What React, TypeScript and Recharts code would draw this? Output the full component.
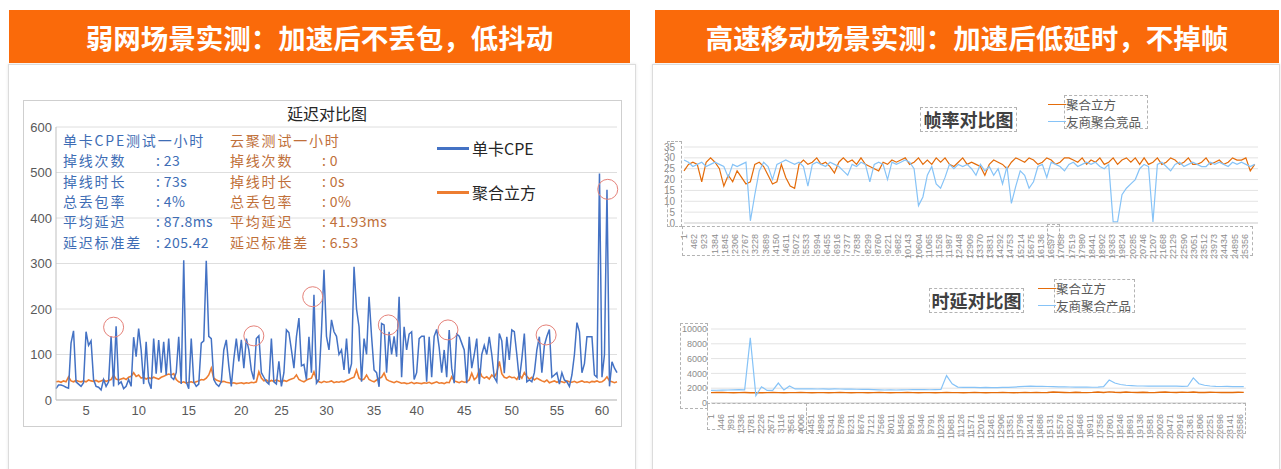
import React from 'react';
import { LineChart, Line, XAxis, YAxis, CartesianGrid, ReferenceDot } from 'recharts';

// ---- 弱网场景：延迟对比图 (x = sample index, labels are minutes) ----
const weakTickIdx = [12, 33, 53, 74, 90, 108, 127, 144, 163, 182, 200, 218];
const weakTickLabels = ['5', '10', '15', '20', '25', '30', '35', '40', '45', '50', '55', '60'];
const weakYTicks = [0, 100, 200, 300, 400, 500, 600];

const cpeDelay = [
  25, 33, 33, 31, 28, 26, 125, 152, 40, 35, 30, 38, 150, 120, 130, 45, 30, 28, 22, 45,
  30, 40, 140, 30, 162, 35, 40, 25, 30, 45, 30, 138, 95, 157, 110, 35, 128, 40, 25, 135,
  58, 132, 60, 128, 55, 135, 50, 45, 60, 139, 35, 307, 40, 25, 135, 40, 30, 35, 125, 130,
  306, 140, 135, 45, 35, 30, 40, 110, 132, 75, 30, 90, 135, 85, 132, 70, 135, 110, 65, 45,
  135, 141, 60, 50, 40, 35, 135, 40, 35, 85, 30, 60, 154, 148, 110, 70, 139, 180, 75, 78,
  45, 139, 60, 231, 37, 45, 150, 286, 140, 110, 176, 150, 140, 100, 110, 66, 135, 58, 80, 293,
  200, 161, 40, 135, 100, 227, 140, 66, 60, 29, 168, 165, 60, 150, 100, 140, 95, 227, 50, 161,
  110, 145, 150, 45, 60, 135, 140, 140, 40, 139, 50, 140, 155, 115, 60, 110, 50, 154, 70, 37,
  145, 140, 125, 110, 37, 139, 70, 100, 135, 35, 100, 120, 100, 139, 100, 50, 40, 146, 130, 59,
  139, 88, 154, 150, 100, 44, 90, 146, 40, 44, 40, 60, 110, 139, 60, 120, 140, 155, 50, 55,
  60, 35, 60, 44, 40, 30, 55, 100, 170, 150, 60, 80, 139, 139, 139, 55, 50, 498, 50, 100,
  462, 30, 84, 70, 60,
];
const cubeDelay = [
  40, 41, 39, 42, 40, 51, 42, 40, 43, 41, 40, 42, 40, 44, 42, 41, 43, 40, 42, 44,
  41, 43, 45, 55, 46, 44, 46, 48, 45, 50, 52, 60, 52, 55, 48, 50, 46, 49, 47, 50,
  48, 46, 50, 52, 55, 57, 55, 58, 45, 40, 38, 40, 37, 39, 40, 38, 40, 42, 45, 44,
  48, 55, 70, 48, 44, 42, 40, 41, 39, 38, 37, 38, 36, 37, 38, 36, 38, 37, 39, 38,
  40, 62, 48, 42, 44, 40, 43, 41, 44, 42, 40, 43, 41, 44, 46, 48, 55, 45, 42, 40,
  44, 46, 48, 62, 45, 40, 38, 41, 39, 40, 42, 38, 40, 39, 41, 40, 43, 45, 48, 50,
  66, 48, 44, 46, 55, 45, 42, 40, 44, 48, 50, 59, 45, 42, 40, 38, 41, 39, 37, 38,
  36, 37, 39, 36, 38, 37, 36, 38, 37, 39, 36, 38, 40, 37, 38, 36, 39, 38, 51, 42,
  40, 38, 41, 39, 40, 44, 59, 45, 50, 66, 52, 48, 51, 46, 55, 50, 60, 85, 58, 50,
  48, 52, 49, 50, 45, 55, 48, 60, 52, 46, 50, 44, 48, 45, 42, 40, 44, 38, 40, 42,
  39, 41, 40, 38, 42, 40, 39, 41, 38, 40, 42, 39, 40, 38, 41, 40, 42, 39, 40, 44,
  51, 42, 40, 38, 40,
];
// red circles drawn on the original screenshot
const markIdx = [23, 79, 102.5, 132.7, 156.5, 195.7, 220.3];
const markVal = [160, 141, 227, 165, 154, 143, 463];

const statLabels = ['掉线次数', '掉线时长', '总丢包率', '平均延迟', '延迟标准差'];
const cpeStats = ['23', '73s', '4%', '87.8ms', '205.42'];
const cubeStats = ['0', '0s', '0%', '41.93ms', '6.53'];

// ---- 高速移动：帧率对比图 (one value every 200 frames) ----
const fpsTicks = [
  1, 462, 923, 1384, 1845, 2306, 2767, 3228, 3689, 4150, 4611, 5072, 5533, 5994, 6455, 6916,
  7377, 7838, 8299, 8760, 9221, 9682, 10143, 10604, 11065, 11526, 11987, 12448, 12909, 13370,
  13831, 14292, 14753, 15214, 15675, 16136, 16597, 17058, 17519, 17980, 18441, 18902, 19363,
  19824, 20285, 20746, 21207, 21668, 22129, 22590, 23051, 23512, 23973, 24434, 24895, 25356,
];
const fpsYTicks = [0, 5, 10, 15, 20, 25, 30, 35];
const fpsCube = [
  24, 27, 28, 27, 19, 28, 30, 28, 25, 17, 22, 19, 24, 21, 18, 19, 27, 28, 26, 22,
  18, 19, 27, 21, 17, 16, 27, 29, 27, 28, 30, 27, 28, 26, 23, 28, 30, 28, 29, 27,
  30, 27, 26, 25, 24, 28, 27, 29, 28, 29, 30, 27, 28, 30, 27, 29, 27, 30, 28, 30,
  27, 26, 28, 30, 27, 28, 27, 26, 22, 27, 29, 28, 27, 25, 28, 30, 29, 28, 30, 29,
  27, 28, 30, 29, 27, 28, 30, 30, 29, 28, 30, 27, 29, 28, 30, 27, 28, 30, 27, 29,
  30, 28, 30, 27, 30, 27, 28, 30, 27, 28, 30, 29, 27, 28, 30, 27, 27, 28, 30, 27,
  28, 29, 27, 28, 30, 29, 29, 30, 24, 27,
];
const fpsRival = [
  29, 28, 26, 27, 28, 26, 27, 28, 27, 26, 21, 27, 26, 27, 28, 1, 13, 24, 28, 26,
  20, 27, 28, 29, 28, 27, 28, 26, 17, 27, 28, 27, 26, 28, 27, 26, 24, 22, 27, 26,
  28, 27, 19, 27, 28, 27, 20, 28, 27, 28, 29, 28, 25, 8, 12, 22, 26, 18, 16, 21,
  27, 25, 27, 26, 27, 25, 22, 27, 24, 26, 22, 25, 18, 26, 9, 17, 24, 22, 16, 19,
  26, 27, 21, 28, 27, 26, 24, 27, 28, 26, 27, 28, 27, 28, 26, 25, 27, 0.5, 0.5, 13,
  16, 18, 20, 25, 27, 26, 0.5, 27, 28, 26, 24, 27, 28, 26, 27, 28, 27, 26, 26, 28,
  27, 28, 27, 26, 28, 27, 28, 27, 26, 27,
];

// ---- 高速移动：时延对比图 (one value every 250 samples) ----
const delayTicks = [
  1, 446, 891, 1336, 1781, 2226, 2671, 3116, 3561, 4006, 4451, 4896, 5341, 5786, 6231, 6676,
  7121, 7566, 8011, 8456, 8901, 9346, 9791, 10236, 10681, 11126, 11571, 12016, 12461, 12906,
  13351, 13796, 14241, 14686, 15131, 15576, 16021, 16466, 16911, 17356, 17801, 18246, 18691,
  19136, 19581, 20026, 20471, 20916, 21361, 21806, 22251, 22696, 23141, 23586,
];
const delayYTicks = [0, 2000, 4000, 6000, 8000, 10000];
const delayRival = [
  1700, 1720, 1750, 1760, 1780, 1800, 1780, 8800, 1000, 2200,
  1700, 1700, 2700, 1750, 2300, 1900, 1920, 1900, 1910, 1890,
  1900, 1880, 1900, 1890, 1870, 1880, 1860, 1850, 1830, 1800,
  1780, 1760, 1770, 1760, 1780, 1790, 1800, 1810, 1800, 1790,
  1800, 1820, 3700, 2600, 2150, 2120, 2100, 2110, 2090, 2100,
  2080, 2090, 2100, 2110, 2150, 2200, 2250, 2280, 2260, 2250,
  2230, 2200, 2180, 2170, 2160, 2150, 2140, 2150, 2130, 2140,
  2200, 3100, 2700, 2500, 2400, 2350, 2300, 2300, 2280, 2300,
  2290, 2300, 2280, 2270, 2250, 2260, 3400, 2600, 2400, 2300,
  2250, 2230, 2240, 2220, 2200, 2200,
];
const delayCube = [
  1400, 1410, 1420, 1400, 1390, 1400, 1410, 1380, 1400, 1390,
  1400, 1410, 1400, 1390, 1400, 1400, 1410, 1400, 1390, 1400,
  1400, 1390, 1400, 1410, 1400, 1390, 1400, 1400, 1390, 1400,
  1410, 1400, 1390, 1400, 1400, 1410, 1400, 1390, 1400, 1400,
  1390, 1400, 1410, 1400, 1400, 1390, 1400, 1410, 1400, 1390,
  1400, 1400, 1410, 1400, 1390, 1400, 1410, 1400, 1420, 1400,
  1410, 1480, 1450, 1420, 1400, 1460, 1410, 1400, 1430, 1480,
  1420, 1500, 1450, 1420, 1480, 1440, 1410, 1460, 1420, 1400,
  1450, 1490, 1430, 1420, 1470, 1440, 1480, 1420, 1410, 1450,
  1430, 1410, 1440, 1420, 1450, 1430,
];

const BLUE = '#4472C4';
const ORANGE = '#ED7D31';
const CUBE = '#E46C0A';
const RIVAL = '#86C3F7';
const HEADER = '#FA6A0A';
const CJK = '"Noto Sans CJK SC", "Noto Sans", sans-serif';

const weakData = cpeDelay.map((v, i) => ({ i, cpe: v, cube: cubeDelay[i] }));
const fpsData = fpsCube.map((v, k) => ({ n: 1 + k * 200, cube: v, rival: fpsRival[k] }));
const delayData = delayCube.map((v, k) => ({ n: 1 + k * 250, cube: v, rival: delayRival[k] }));

const RotTick = ({ x, y, payload }: any) => (
  <text
    x={x}
    y={y + 3}
    transform={`rotate(-90 ${x} ${y + 3})`}
    textAnchor="end"
    dominantBaseline="central"
    fontSize={9}
    fontFamily="Liberation Sans, sans-serif"
    fill="#8c8c8c"
  >
    {String(payload.value)}
  </text>
);

const abs = (left: number, top: number, extra: React.CSSProperties = {}): React.CSSProperties => ({
  position: 'absolute',
  left,
  top,
  ...extra,
});

const Dashed = ({ l, t, w, h }: { l: number; t: number; w: number; h: number }) => (
  <div style={abs(l, t, { width: w, height: h, border: '1px dashed #b3b3b3', boxSizing: 'border-box' })} />
);

const SmallLegend = ({ l, t, items }: { l: number; t: number; items: { name: string; color: string }[] }) => (
  <div style={abs(l, t)}>
    {items.map((it) => (
      <div key={it.name} style={{ display: 'flex', alignItems: 'center', height: 17 }}>
        <div style={{ width: 18, height: 1.5, background: it.color }} />
        <span style={{ fontSize: 12.5, color: '#595959', fontFamily: CJK, lineHeight: '17px' }}>{it.name}</span>
      </div>
    ))}
  </div>
);

// stats text: 14px glyphs spaced out to the 16px pitch of the original
const statStyle = (color: string, spacing = 1.8): React.CSSProperties => ({
  fontSize: 14,
  letterSpacing: spacing,
  lineHeight: '20.3px',
  color,
  whiteSpace: 'pre',
});

const App = () => (
  <div
    style={{
      position: 'absolute',
      left: 0,
      top: 0,
      width: 1281,
      height: 469,
      background: '#fff',
      overflow: 'hidden',
      fontFamily: CJK,
    }}
  >
    {/* panels */}
    <div style={abs(8, 64, { width: 628, height: 420, border: '1px solid #dcdcdc', boxSizing: 'border-box', boxShadow: '0 0 3px #e6e6e6' })} />
    <div style={abs(652, 64, { width: 628, height: 420, border: '1px solid #dcdcdc', boxSizing: 'border-box', boxShadow: '0 0 3px #e6e6e6' })} />

    {/* headers */}
    <div
      style={abs(9, 10, {
        width: 621, height: 53, background: HEADER, color: '#fff', fontSize: 27.5, fontWeight: 700,
        display: 'flex', alignItems: 'center', justifyContent: 'center',
      })}
    >
      弱网场景实测：加速后不丢包，低抖动
    </div>
    <div
      style={abs(655, 10, {
        width: 624, height: 53, background: HEADER, color: '#fff', fontSize: 27.5, fontWeight: 700,
        display: 'flex', alignItems: 'center', justifyContent: 'center',
      })}
    >
      高速移动场景实测：加速后低延时，不掉帧
    </div>

    {/* ---------- left: 延迟对比图 ---------- */}
    <div style={abs(23, 100, { width: 599, height: 327, border: '1px solid #cfcfcf', boxSizing: 'border-box' })} />
    <div style={abs(23, 100)}>
      <LineChart width={600} height={327} data={weakData} margin={{ top: 27, right: 6, left: 0, bottom: 0 }}>
        <CartesianGrid vertical={false} stroke="#dedede" />
        <XAxis
          type="number"
          dataKey="i"
          domain={[0, 224]}
          ticks={weakTickIdx}
          interval={0}
          tickFormatter={(v: number) => weakTickLabels[weakTickIdx.indexOf(v)]}
          height={27}
          tickLine={false}
          tickSize={4}
          axisLine={{ stroke: '#bfbfbf' }}
          tick={{ fontSize: 13, fill: '#595959', fontFamily: 'Liberation Sans, sans-serif' }}
        />
        <YAxis
          domain={[0, 600]}
          ticks={weakYTicks}
          interval={0}
          width={33}
          tickLine={false}
          tickSize={2}
          tickMargin={2}
          axisLine={{ stroke: '#bfbfbf' }}
          tick={{ fontSize: 13, fill: '#595959', fontFamily: 'Liberation Sans, sans-serif' }}
        />
        <Line dataKey="cube" stroke={ORANGE} strokeWidth={1.6} dot={false} isAnimationActive={false} />
        <Line dataKey="cpe" stroke={BLUE} strokeWidth={1.5} dot={false} isAnimationActive={false} />
        {markIdx.map((x, k) => (
          <ReferenceDot key={k} x={x} y={markVal[k]} r={10} fill="none" stroke="#E5827A" strokeWidth={1} />
        ))}
      </LineChart>
    </div>
    <div style={abs(287, 103, { fontSize: 16, color: '#262626', lineHeight: '20px' })}>延迟对比图</div>

    {/* stats block */}
    <div style={abs(63, 130, statStyle('#3E6DB5'))}>单卡CPE测试一小时</div>
    <div style={abs(230, 130, statStyle('#C0703A'))}>云聚测试一小时</div>
    {statLabels.map((lab, r) => (
      <React.Fragment key={lab}>
        <div style={abs(63, 150.3 + r * 20.3, statStyle('#3E6DB5'))}>{lab}</div>
        <div style={abs(156, 150.3 + r * 20.3, statStyle('#3E6DB5', 0.4))}>{': ' + cpeStats[r]}</div>
        <div style={abs(230, 150.3 + r * 20.3, statStyle('#C0703A'))}>{lab}</div>
        <div style={abs(322, 150.3 + r * 20.3, statStyle('#C0703A', 0.4))}>{': ' + cubeStats[r]}</div>
      </React.Fragment>
    ))}

    {/* legend */}
    {[
      { name: '单卡CPE', color: BLUE, y: 148 },
      { name: '聚合立方', color: ORANGE, y: 192 },
    ].map((it) => (
      <div key={it.name} style={abs(437, it.y - 11, { display: 'flex', alignItems: 'center', height: 22 })}>
        <div style={{ width: 32, height: 3, background: it.color }} />
        <span style={{ fontSize: 16, color: '#262626', marginLeft: 3 }}>{it.name}</span>
      </div>
    ))}

    {/* ---------- right top: 帧率对比图 ---------- */}
    <div style={abs(655, 90)}>
      <LineChart width={620} height={180} data={fpsData} margin={{ top: 57, right: 17, left: 0, bottom: 0 }}>
        <CartesianGrid vertical={false} stroke="#e3e3e3" />
        <XAxis
          type="number"
          dataKey="n"
          domain={[0, 25950]}
          ticks={fpsTicks}
          interval={0}
          height={47}
          tickLine={false}
          axisLine={{ stroke: '#d9d9d9' }}
          tick={<RotTick />}
        />
        <YAxis
          domain={[0, 35]}
          ticks={fpsYTicks}
          interval={0}
          width={29}
          axisLine={false}
          tickLine={false}
          tickSize={6}
          tickMargin={3}
          tick={{ fontSize: 10, fill: '#8c8c8c', fontFamily: 'Liberation Sans, sans-serif' }}
        />
        <Line dataKey="cube" stroke={CUBE} strokeWidth={1.2} dot={false} isAnimationActive={false} />
        <Line dataKey="rival" stroke={RIVAL} strokeWidth={1.2} dot={false} isAnimationActive={false} />
      </LineChart>
    </div>
    <Dashed l={920} t={107} w={97} h={25} />
    <div style={abs(920, 107, { width: 97, height: 25, fontSize: 18, fontWeight: 700, color: '#404040', textAlign: 'center', lineHeight: '25px' })}>
      帧率对比图
    </div>
    <Dashed l={1064} t={95} w={84} h={34} />
    <SmallLegend
      l={1048}
      t={96}
      items={[
        { name: '聚合立方', color: CUBE },
        { name: '友商聚合竞品', color: RIVAL },
      ]}
    />
    <Dashed l={667} t={141} w={15} h={86} />
    <Dashed l={682} t={226} w={571} h={30} />
    <Dashed l={1047} t={224} w={13} h={21} />

    {/* ---------- right bottom: 时延对比图 ---------- */}
    <div style={abs(655, 270)}>
      <LineChart width={620} height={190} data={delayData} margin={{ top: 59, right: 29, left: 0, bottom: 0 }}>
        <CartesianGrid vertical={false} stroke="#e3e3e3" />
        <XAxis
          type="number"
          dataKey="n"
          domain={[0, 23850]}
          ticks={delayTicks}
          interval={0}
          height={57}
          tickLine={false}
          axisLine={{ stroke: '#d9d9d9' }}
          tick={<RotTick />}
        />
        <YAxis
          domain={[0, 10000]}
          ticks={delayYTicks}
          interval={0}
          width={56}
          axisLine={false}
          tickLine={false}
          tickSize={2}
          tickMargin={2}
          tick={{ fontSize: 9, fill: '#8c8c8c', fontFamily: 'Liberation Sans, sans-serif' }}
        />
        <Line dataKey="cube" stroke={CUBE} strokeWidth={1.4} dot={false} isAnimationActive={false} />
        <Line dataKey="rival" stroke={RIVAL} strokeWidth={1.2} dot={false} isAnimationActive={false} />
      </LineChart>
    </div>
    <Dashed l={929} t={288} w={95} h={25} />
    <div style={abs(929, 288, { width: 95, height: 25, fontSize: 18, fontWeight: 700, color: '#404040', textAlign: 'center', lineHeight: '25px' })}>
      时延对比图
    </div>
    <Dashed l={1054} t={279} w={81} h={34} />
    <SmallLegend
      l={1038}
      t={280}
      items={[
        { name: '聚合立方', color: CUBE },
        { name: '友商聚合产品', color: RIVAL },
      ]}
    />
    <Dashed l={680} t={323} w={28} h={86} />
    <Dashed l={707} t={403} w={100} h={27} />
    <Dashed l={806} t={403} w={440} h={31} />
  </div>
);

export default App;
